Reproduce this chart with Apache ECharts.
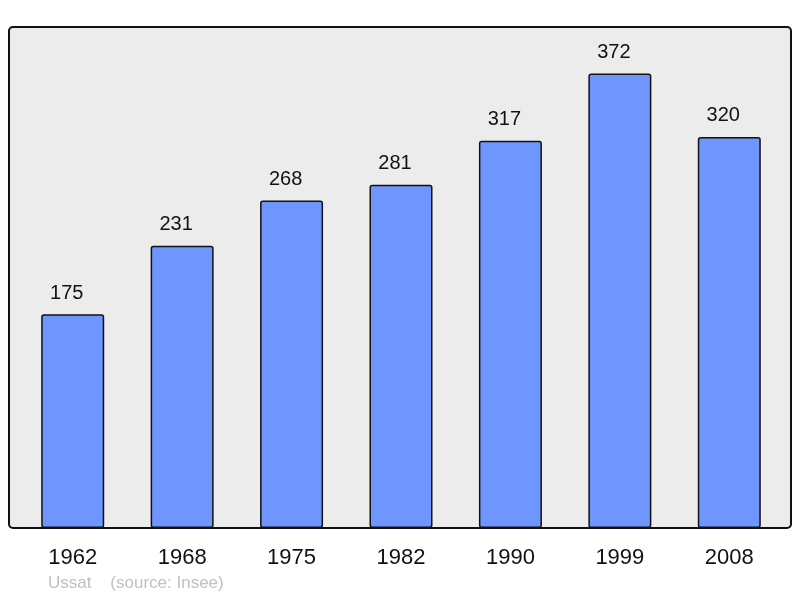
<!DOCTYPE html>
<html>
<head>
<meta charset="utf-8">
<script src="https://cdn.jsdelivr.net/npm/echarts@6/dist/echarts.min.js"></script>
<style>
  html, body { margin: 0; padding: 0; background: #fff; }
  #chart { width: 800px; height: 598px; }
</style>
</head>
<body>
<div id="chart"></div>
<script>
const years = ['1962', '1968', '1975', '1982', '1990', '1999', '2008'];
const population = [175, 231, 268, 281, 317, 372, 320];

const myChart = echarts.init(document.getElementById('chart'));
myChart.setOption({
  animation: false,
  graphic: [
    {
      type: 'rect',
      z: -10,
      shape: { x: 9, y: 27, width: 782, height: 501, r: 4 },
      style: { fill: '#ececec', stroke: '#111', lineWidth: 2 }
    },
    {
      type: 'text',
      left: 48,
      top: 575,
      style: {
        text: 'Ussat    (source: Insee)',
        font: '17px "Liberation Sans", Arial, sans-serif',
        fill: '#c0c0c0'
      }
    }
  ],
  grid: {
    left: 18,
    width: 766,
    top: 27,
    bottom: 70,
    containLabel: false
  },
  xAxis: {
    type: 'category',
    data: years,
    axisLine: { show: false },
    axisTick: { show: false },
    axisLabel: {
      margin: 19,
      fontSize: 22,
      color: '#111',
      fontFamily: '"Liberation Sans", Arial, sans-serif'
    }
  },
  yAxis: {
    type: 'value',
    min: 0,
    max: 410,
    show: false,
    splitLine: { show: false }
  },
  series: [
    {
      type: 'bar',
      data: population,
      barWidth: 63,
      itemStyle: {
        color: '#6f96ff',
        borderColor: '#111',
        borderWidth: 1.5,
        borderRadius: 2
      },
      label: {
        show: true,
        position: 'top',
        distance: 11,
        offset: [-6, 0],
        fontSize: 20,
        color: '#111',
        fontFamily: '"Liberation Sans", Arial, sans-serif'
      }
    }
  ]
});
</script>
</body>
</html>
